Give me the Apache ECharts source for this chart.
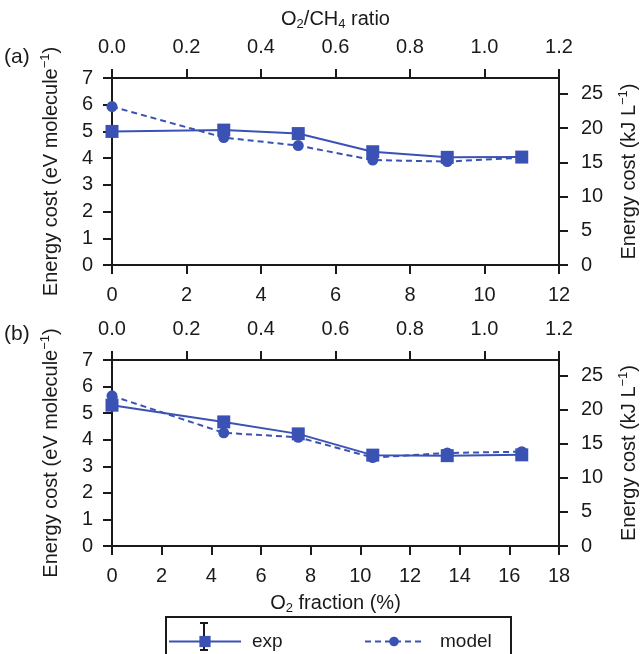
<!DOCTYPE html>
<html>
<head>
<meta charset="utf-8">
<script src="https://cdn.jsdelivr.net/npm/echarts@6/dist/echarts.min.js"></script>
<style>
  html, body { margin: 0; padding: 0; background: #fff; }
  #chart { width: 640px; height: 654px; }
</style>
</head>
<body>
<div id="chart"></div>
<script>
// Panel (a): O2 fraction (%) vs energy cost (eV per molecule)
var fracA  = [0, 3, 5, 7, 9, 11];
var expA   = [5.0, 5.05, 4.92, 4.24, 4.03, 4.04];
var modelA = [5.93, 4.77, 4.47, 3.93, 3.87, 4.02];

// Panel (b)
var fracB  = [0, 4.5, 7.5, 10.5, 13.5, 16.5];
var expB   = [5.3, 4.67, 4.22, 3.42, 3.40, 3.43];
var modelB = [5.65, 4.26, 4.09, 3.33, 3.50, 3.55];

// Axis ranges and tick labels
var eVMax = 7;
var kJPerEV = 3.9;              // eV/molecule -> kJ/L
var kJTicks = [0, 5, 10, 15, 20, 25];
var ratioMax = 1.2;
var fracMaxA = 12, fracMaxB = 18;

var FONT = '"Liberation Sans", Arial, sans-serif';
var BLUE = '#3a52b4';
var INK = '#1a1a1a';
var FS = 20;

function pairs(xs, ys) { return xs.map(function (x, i) { return [x, ys[i]]; }); }

var sub = { fontSize: 13, fontFamily: FONT, color: INK, padding: [10, 0, 0, 0] };
var sup = { fontSize: 13, fontFamily: FONT, color: INK, padding: [0, 0, 12, 0] };
var txt = { fontSize: FS, fontFamily: FONT, color: INK };
var richSet = { t: txt, sub: sub, sup: sup };

var grids = [
  { left: 112, top: 78, width: 447, height: 187, outerBoundsMode: 'none' },
  { left: 112, top: 360, width: 447, height: 186, outerBoundsMode: 'none' }
];

function baseAxis(extra) {
  var a = {
    axisLine: { show: true, onZero: false, lineStyle: { color: INK, width: 2 } },
    axisTick: { show: true, inside: false, length: 9, lineStyle: { color: INK, width: 2 } },
    axisLabel: { color: INK, fontSize: FS, fontFamily: FONT, margin: 19 },
    splitLine: { show: false },
    nameTextStyle: { fontSize: FS, fontFamily: FONT, color: INK, rich: richSet }
  };
  for (var k in extra) a[k] = extra[k];
  return a;
}

var yTitleL = '{t|Energy cost (eV molecule}{sup|−1}{t|)}';
var yTitleR = '{t|Energy cost (kJ L}{sup|−1}{t|)}';

var xAxes = [
  baseAxis({ gridIndex: 0, type: 'value', position: 'bottom', min: 0, max: fracMaxA, interval: 2 }),
  baseAxis({ gridIndex: 0, type: 'value', position: 'top', min: 0, max: ratioMax, interval: 0.2,
    name: '{t|O}{sub|2}{t|/CH}{sub|4}{t| ratio}', nameLocation: 'middle', nameGap: 47 }),
  baseAxis({ gridIndex: 1, type: 'value', position: 'bottom', min: 0, max: fracMaxB, interval: 2,
    name: '{t|O}{sub|2}{t| fraction (%)}', nameLocation: 'middle', nameGap: 46 }),
  baseAxis({ gridIndex: 1, type: 'value', position: 'top', min: 0, max: ratioMax, interval: 0.2 })
];
xAxes[0].axisLabel.margin = 20;
xAxes[1].axisLabel.margin = 21;
xAxes[2].axisLabel.margin = 20;
xAxes[3].axisLabel.margin = 21;
xAxes[1].axisLabel.formatter = function (v) { return v.toFixed(1); };
xAxes[3].axisLabel.formatter = function (v) { return v.toFixed(1); };

function leftY(g) {
  return baseAxis({ gridIndex: g, type: 'value', position: 'left', min: 0, max: eVMax, interval: 1,
    name: yTitleL, nameLocation: 'middle', nameGap: 48, nameRotate: 90 });
}
function rightY(g) {
  var a = baseAxis({ gridIndex: g, type: 'value', position: 'right', min: 0, max: eVMax * kJPerEV,
    name: yTitleR, nameLocation: 'middle', nameGap: 58, nameRotate: 90 });
  a.axisTick.customValues = kJTicks;
  a.axisLabel.customValues = kJTicks;
  a.axisLabel.margin = 22;
  return a;
}
var yAxes = [leftY(0), rightY(0), leftY(1), rightY(1)];

function expSeries(xi, yi, data) {
  return {
    name: 'exp', type: 'line', xAxisIndex: xi, yAxisIndex: yi, data: data,
    symbol: 'rect', symbolSize: 13, showAllSymbol: true,
    lineStyle: { color: BLUE, width: 2 }, itemStyle: { color: BLUE },
    emphasis: { disabled: true }, z: 3, animation: false
  };
}
function modelSeries(xi, yi, data) {
  return {
    name: 'model', type: 'line', xAxisIndex: xi, yAxisIndex: yi, data: data,
    symbol: 'circle', symbolSize: 11, showAllSymbol: true,
    lineStyle: { color: BLUE, width: 2, type: [6, 4] }, itemStyle: { color: BLUE },
    emphasis: { disabled: true }, z: 2, animation: false
  };
}

var legendText = { fontSize: 19, fontFamily: FONT, color: INK };

var option = {
  animation: false,
  backgroundColor: '#fff',
  grid: grids,
  xAxis: xAxes,
  yAxis: yAxes,
  legend: [
    { data: ['exp'], left: 163, top: 627, itemWidth: 72, itemHeight: 14,
      textStyle: Object.assign({ padding: [0, 0, 0, 6] }, legendText), selectedMode: false },
    { data: ['model'], left: 359, top: 627, itemWidth: 58, itemHeight: 12,
      textStyle: Object.assign({ padding: [0, 0, 0, 12] }, legendText), selectedMode: false }
  ],
  graphic: [
    { type: 'text', left: 4, top: 47, style: { text: '(a)', fontSize: 21, fontFamily: FONT, fill: INK } },
    { type: 'text', left: 4, top: 324, style: { text: '(b)', fontSize: 21, fontFamily: FONT, fill: INK } },
    // legend frame
    { type: 'rect', shape: { x: 166, y: 617, width: 345, height: 40 },
      style: { fill: 'none', stroke: INK, lineWidth: 2 }, z: 1 },
    // error-bar glyph on the "exp" legend key
    { type: 'group', z: 1, children: [
      { type: 'line', shape: { x1: 204, y1: 623, x2: 204, y2: 650 }, style: { stroke: INK, lineWidth: 2 } },
      { type: 'line', shape: { x1: 200, y1: 623, x2: 208, y2: 623 }, style: { stroke: INK, lineWidth: 2 } },
      { type: 'line', shape: { x1: 200, y1: 650, x2: 208, y2: 650 }, style: { stroke: INK, lineWidth: 2 } }
    ] }
  ],
  series: [
    expSeries(0, 0, pairs(fracA, expA)),
    modelSeries(0, 0, pairs(fracA, modelA)),
    expSeries(2, 2, pairs(fracB, expB)),
    modelSeries(2, 2, pairs(fracB, modelB))
  ]
};

var chart = echarts.init(document.getElementById('chart'), null, { renderer: 'canvas' });
chart.setOption(option);
</script>
</body>
</html>
